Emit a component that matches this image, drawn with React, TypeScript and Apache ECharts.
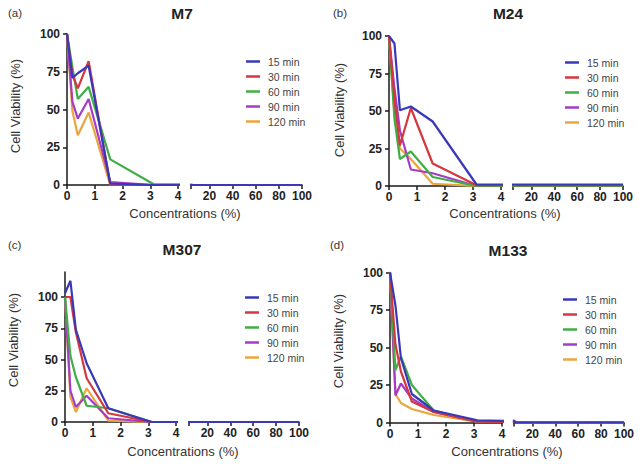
import React, { useEffect, useRef } from 'react';
import * as echarts from 'echarts';

// ---------- data ----------
const CONCENTRATIONS = [0, 0.195, 0.39, 0.78, 1.56, 3.125, 6.25, 12.5, 25, 50, 100];
const SERIES_NAMES = ['15 min', '30 min', '60 min', '90 min', '120 min'];
const X_TICKS_LEFT = [0, 1, 2, 3, 4];
const X_TICKS_RIGHT = [20, 40, 60, 80, 100];
const Y_TICKS = [0, 25, 50, 75, 100];

const M7_15 = [100, 71, 74, 79, 1, 0, 0, 0, 0, 0, 0];
const M7_30 = [100, 73, 64, 82, 0, 0, 0, 0, 0, 0, 0];
const M7_60 = [100, 78, 57, 65, 17, 0.5, 0, 0, 0, 0, 0];
const M7_90 = [100, 55, 44, 57, 2, 0, 0, 0, 0, 0, 0];
const M7_120 = [100, 49, 33, 48, 0, 0, 0, 0, 0, 0, 0];

const M24_15 = [100, 95, 50.5, 53, 43, 1, 1, 1, 1, 1, 1];
const M24_30 = [100, 58, 27, 52, 15, 0.5, 0.5, 0.5, 0.5, 0.5, 0.5];
const M24_60 = [100, 45, 18, 23, 6, 0, 0, 0, 0, 0, 0];
const M24_90 = [100, 65, 37, 11, 8.5, 0, 0, 0, 0, 0, 0];
const M24_120 = [100, 48, 25, 18, 1.5, 0, 0, 0, 0, 0, 0];

const M307_15 = [103, 113, 74, 47, 11, 0, 0, 0, 0, 0, 0];
const M307_30 = [100, 100, 72, 35, 7, 0, 0, 0, 0, 0, 0];
const M307_60 = [100, 53, 36, 13, 11, 0, 0, 0, 0, 0, 0];
const M307_90 = [100, 25, 12, 21, 3, 0, 0, 0, 0, 0, 0];
const M307_120 = [100, 20, 8, 27, 1, 0, 0, 0, 0, 0, 0];

const M133_15 = [100, 78, 43, 19, 8, 1.5, 0, 0, 0, 0, 0];
const M133_30 = [100, 52, 34, 14, 7, 0.5, 0, 0, 0, 0, 0];
const M133_60 = [100, 35, 44, 25, 8, 0.5, 0, 0, 0, 0, 0];
const M133_90 = [100, 18, 26, 16, 7, 0.5, 0, 0, 0, 0, 0];
const M133_120 = [100, 19, 13, 9, 5, 0.5, 0, 0, 0, 0, 0];

const PANEL_TITLES = ['M7', 'M24', 'M307', 'M133'];
const PANEL_TAGS = ['(a)', '(b)', '(c)', '(d)'];
const PANEL_VALUES = [
  [M7_15, M7_30, M7_60, M7_90, M7_120],
  [M24_15, M24_30, M24_60, M24_90, M24_120],
  [M307_15, M307_30, M307_60, M307_90, M307_120],
  [M133_15, M133_30, M133_60, M133_90, M133_120],
];
const PANEL_YMAX = [100, 100, 120, 100];

// ---------- style / layout ----------
const COLORS = ['#3838b8', '#d4373d', '#3fae45', '#a43cc8', '#eaa63c'];
const FONT = '"Liberation Sans", Arial, Helvetica, sans-serif';

const LAYOUT = [
  { left: 67, top: 34, height: 151, width: 111, rLeft: 191, rWidth: 111,
    tag: [8, 13], title: [182, 13], xTitle: [185, 213], yTitle: [15, 106], legend: [246, 56] },
  { left: 389, top: 36, height: 150, width: 112, rLeft: 513, rWidth: 110,
    tag: [333, 13], title: [508, 13], xTitle: [505, 213], yTitle: [339, 110], legend: [565, 57] },
  { left: 65, top: 272, height: 150, width: 111, rLeft: 189, rWidth: 110,
    tag: [8, 245], title: [182, 249], xTitle: [183, 451], yTitle: [13, 340], legend: [245, 292] },
  { left: 390, top: 272.5, height: 150, width: 112, rLeft: 514, rWidth: 110,
    tag: [330, 245], title: [508, 250], xTitle: [507, 451], yTitle: [338, 341], legend: [563, 294] },
];

function buildOption() {
  const grid: any[] = [];
  const xAxis: any[] = [];
  const yAxis: any[] = [];
  const series: any[] = [];
  const legend: any[] = [];
  const graphic: any[] = [];

  const axisLine = { show: true, lineStyle: { color: '#1a1a1a', width: 1.5 } };
  const axisTick = { show: true, length: 4, lineStyle: { color: '#1a1a1a', width: 1.5 } };
  const labelStyle = { color: '#222', fontSize: 12, fontWeight: 'bold', fontFamily: FONT };

  PANEL_TITLES.forEach((title, p) => {
    const L = LAYOUT[p];
    const yMax = PANEL_YMAX[p];
    const gLeft = grid.length;
    grid.push({ left: L.left, top: L.top, width: L.width, height: L.height });
    grid.push({ left: L.rLeft, top: L.top, width: L.rWidth, height: L.height });

    xAxis.push({
      gridIndex: gLeft, type: 'value', min: 0, max: 4, interval: 1, z: 0,
      axisLine, splitLine: { show: false },
      axisTick: { ...axisTick, customValues: X_TICKS_LEFT },
      axisLabel: { ...labelStyle, margin: 5, customValues: X_TICKS_LEFT },
    });
    xAxis.push({
      gridIndex: gLeft + 1, type: 'value', min: 4, max: 100, z: 0,
      axisLine, splitLine: { show: false },
      axisTick: { ...axisTick, customValues: [4, ...X_TICKS_RIGHT] },
      axisLabel: { ...labelStyle, margin: 5, customValues: X_TICKS_RIGHT },
    });
    yAxis.push({
      gridIndex: gLeft, type: 'value', min: 0, max: yMax, z: 0,
      axisLine, splitLine: { show: false },
      axisTick: { ...axisTick, customValues: Y_TICKS },
      axisLabel: { ...labelStyle, margin: 7, customValues: Y_TICKS },
    });
    yAxis.push({
      gridIndex: gLeft + 1, type: 'value', min: 0, max: yMax, show: false,
      splitLine: { show: false },
    });

    const vals = PANEL_VALUES[p];
    [0, 1].forEach((seg) => {
      // left segment uses points up to 6.25, right segment from 3.125 on (both clipped to their axis range)
      const from = seg === 0 ? 0 : 5;
      const to = seg === 0 ? 7 : CONCENTRATIONS.length;
      for (let i = SERIES_NAMES.length - 1; i >= 0; i--) {
        const data: number[][] = [];
        for (let j = from; j < to; j++) data.push([CONCENTRATIONS[j], vals[i][j]]);
        series.push({
          type: 'line', name: SERIES_NAMES[i],
          xAxisIndex: gLeft + seg, yAxisIndex: gLeft + seg,
          data, z: 5,
          showSymbol: false, symbol: 'none', clip: true,
          lineStyle: { width: 2.2, color: COLORS[i] },
          itemStyle: { color: COLORS[i] },
          emphasis: { disabled: true },
        });
      }
    });

    legend.push({
      orient: 'vertical', left: L.legend[0], top: L.legend[1], padding: 0,
      data: SERIES_NAMES, icon: 'rect', itemWidth: 14, itemHeight: 2.5, itemGap: 4,
      selectedMode: false,
      textStyle: { fontSize: 10.5, color: '#444', fontFamily: FONT, padding: [0, 0, 0, 3] },
    });

    graphic.push({
      type: 'text', x: L.tag[0], y: L.tag[1],
      style: { text: PANEL_TAGS[p], fontSize: 11.5, fontFamily: FONT, fill: '#333', align: 'left', verticalAlign: 'middle' },
    });
    graphic.push({
      type: 'text', x: L.title[0], y: L.title[1],
      style: { text: title, fontSize: 15.5, fontWeight: 'bold', fontFamily: FONT, fill: '#222', align: 'center', verticalAlign: 'middle' },
    });
    graphic.push({
      type: 'text', x: L.xTitle[0], y: L.xTitle[1],
      style: { text: 'Concentrations (%)', fontSize: 13, fontFamily: FONT, fill: '#333', align: 'center', verticalAlign: 'middle' },
    });
    graphic.push({
      type: 'text', x: L.yTitle[0], y: L.yTitle[1], rotation: Math.PI / 2,
      style: { text: 'Cell Viability (%)', fontSize: 13, fontFamily: FONT, fill: '#333', align: 'center', verticalAlign: 'middle' },
    });
  });

  return {
    animation: false,
    backgroundColor: '#ffffff',
    grid, xAxis, yAxis, series, legend, graphic,
  };
}

export default function App() {
  const ref = useRef<HTMLDivElement>(null);
  useEffect(() => {
    if (!ref.current) return;
    const chart = echarts.init(ref.current, null, { renderer: 'svg' });
    chart.setOption(buildOption() as any);
    return () => chart.dispose();
  }, []);
  return (
    <div
      ref={ref}
      style={{ position: 'fixed', left: 0, top: 0, width: 639, height: 465, background: '#fff' }}
    />
  );
}
